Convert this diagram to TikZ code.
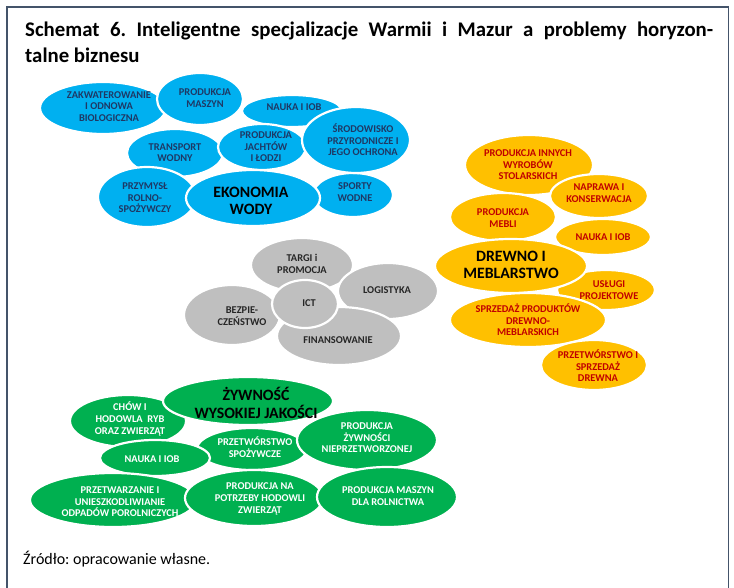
\documentclass[tikz,border=0pt]{standalone}
\usepackage{fontspec}
\setmainfont{Carlito}
\usetikzlibrary{shapes.geometric}
\definecolor{blueF}{HTML}{00B0F0}
\definecolor{orangeF}{HTML}{FFC000}
\definecolor{greenF}{HTML}{00B050}
\definecolor{grayF}{HTML}{BFBFBF}
\definecolor{navyT}{HTML}{1F3864}
\definecolor{redT}{HTML}{C00000}
\definecolor{grayT}{HTML}{262626}
\definecolor{frameC}{HTML}{44546A}
\tikzset{
  blob/.style={ellipse, draw=white, line width=2.2pt, inner sep=0pt},
  bb/.style={blob, fill=blueF},
  ob/.style={blob, fill=orangeF},
  gb/.style={blob, fill=grayF},
  zb/.style={blob, fill=greenF},
  lbl/.style={align=center, inner sep=0pt, font=\bfseries\fontsize{10.4}{11.6}\selectfont},
  big/.style={align=center, inner sep=0pt, text=black, font=\bfseries\fontsize{15.8}{17.5}\selectfont},
  bt/.style={lbl, text=navyT},
  ot/.style={lbl, text=redT},
  gt/.style={lbl, text=grayT},
  zt/.style={lbl, text=white},
}
% name, x, y, rx, ry, style
\newcommand\El[6]{\node[#6, minimum width=2*#4, minimum height=2*#5] (#1) at (#2,#3) {};}
% name, x, y, style, text
\newcommand\Tx[5]{\node[#4] (#1) at (#2,#3) {#5};}
\begin{document}
\frenchspacing
\begin{tikzpicture}[x=1pt,y=-1pt]
\useasboundingbox (0,0) rectangle (734,588);
\fill[white] (0,0) rectangle (734,588);
\draw[frameC, line width=1.4pt] (7,588) -- (7,7) -- (728.5,7) -- (728.5,588);
\node[anchor=base west, inner sep=0pt, font=\bfseries\fontsize{20.8}{24}\selectfont] (t1) at (25,37)
  {\makebox[688pt][s]{Schemat 6. Inteligentne specjalizacje Warmii i Mazur a problemy horyzon-}};
\node[anchor=base west, inner sep=0pt, font=\bfseries\fontsize{20.8}{24}\selectfont] (t2) at (25,63) {talne biznesu};
\node[anchor=base west, inner sep=0pt, font=\fontsize{16}{18}\selectfont] (src) at (23,564) {Źródło: opracowanie własne.};
% blue
\El{b1}{103}{108}{63}{26}{bb}
\El{b2}{200}{99}{43}{26}{bb}
\El{b3}{292}{111}{50}{16}{bb}
\El{b5}{175}{153}{48}{24}{bb}
\El{b6}{262}{147}{44}{23}{bb}
\El{b9}{353}{195}{40}{22}{bb}
\El{b4}{356}{140}{54}{33}{bb}
\El{b7}{147}{197}{49}{30}{bb}
\El{b8}{253}{198}{67}{28}{bb}
% orange
\El{o1}{529}{165}{64}{30}{ob}
\El{o2}{599}{196}{49}{22}{ob}
\El{o3}{503}{217}{53}{24}{ob}
\El{o4}{603}{237}{48}{18}{ob}
\El{o6}{606}{290}{49}{20}{ob}
\El{o5}{511}{266}{76}{27}{ob}
\El{o7}{528}{320}{78}{27}{ob}
\El{o8}{594}{365}{53}{25}{ob}
% gray
\El{g1}{302}{265}{51}{27}{gb}
\El{g2}{388}{291}{50}{28}{gb}
\El{g3}{232}{315}{48}{30}{gb}
\El{g4}{339}{336}{62}{29}{gb}
\El{g5}{305}{304}{33}{24}{gb}
% green
\El{z2}{128}{421}{58}{26}{zb}
\El{z3}{252}{449}{55}{21}{zb}
\El{z1}{248}{401}{85}{24}{zb}
\El{z4}{367}{440}{70}{30}{zb}
\El{z5}{155}{458}{55}{18}{zb}
\El{z6}{113}{500}{83}{27}{zb}
\El{z7}{254}{498}{69}{28}{zb}
\El{z8}{387}{497}{70}{30}{zb}
% texts blue
\Tx{b1t}{109}{106.5}{bt}{ZAKWATEROWANIE\\I ODNOWA\\BIOLOGICZNA}
\Tx{b2t}{205}{98}{bt}{PRODUKCJA\\MASZYN}
\Tx{b3t}{294}{107}{bt}{NAUKA I IOB}
\Tx{b4t}{363}{140}{bt}{ŚRODOWISKO\\PRZYRODNICZE I\\JEGO OCHRONA}
\Tx{b5t}{175}{152.5}{bt}{TRANSPORT\\WODNY}
\Tx{b6t}{266}{147}{bt}{PRODUKCJA\\JACHTÓW\\I ŁODZI}
\Tx{b7t}{145}{198}{bt}{PRZYMYSŁ\\ROLNO-\\SPOŻYWCZY}
\Tx{b8t}{251}{201}{big}{EKONOMIA\\WODY}
\Tx{b9t}{355}{192}{bt}{SPORTY\\WODNE}
% texts orange
\Tx{o1t}{528}{165}{ot}{PRODUKCJA INNYCH\\WYROBÓW\\STOLARSKICH}
\Tx{o2t}{599}{193}{ot}{NAPRAWA I\\KONSERWACJA}
\Tx{o3t}{503}{218}{ot}{PRODUKCJA\\MEBLI}
\Tx{o4t}{603}{237}{ot}{NAUKA I IOB}
\Tx{o5t}{511}{265}{big}{DREWNO I\\MEBLARSTWO}
\Tx{o6t}{609}{290}{ot}{USŁUGI\\PROJEKTOWE}
\Tx{o7t}{528}{320}{ot}{SPRZEDAŻ PRODUKTÓW\\DREWNO-\\MEBLARSKICH}
\Tx{o8t}{598}{366}{ot}{PRZETWÓRSTWO I\\SPRZEDAŻ\\DREWNA}
% texts gray
\Tx{g1t}{302}{264}{gt}{TARGI i\\PROMOCJA}
\Tx{g2t}{387}{290}{gt}{LOGISTYKA}
\Tx{g3t}{242}{316}{gt}{BEZPIE-\\CZEŃSTWO}
\Tx{g4t}{338}{340}{gt}{FINANSOWANIE}
\Tx{g5t}{309}{303}{gt}{ICT}
% texts green
\Tx{z1t}{256}{403}{big}{ŻYWNOŚĆ\\WYSOKIEJ JAKOŚCI}
\Tx{z2t}{130}{419}{zt}{CHÓW I\\HODOWLA~~RYB\\ORAZ ZWIERZĄT}
\Tx{z3t}{255}{447}{zt}{PRZETWÓRSTWO\\SPOŻYWCZE}
\Tx{z4t}{367}{438}{zt}{PRODUKCJA\\ŻYWNOŚCI\\NIEPRZETWORZONEJ}
\Tx{z5t}{152}{459}{zt}{NAUKA I IOB}
\Tx{z6t}{120}{502}{zt}{PRZETWARZANIE I\\UNIESZKODLIWIANIE\\ODPADÓW POROLNICZYCH}
\Tx{z7t}{260}{499}{zt}{PRODUKCJA NA\\POTRZEBY HODOWLI\\ZWIERZĄT}
\Tx{z8t}{388}{496}{zt}{PRODUKCJA MASZYN\\DLA ROLNICTWA}
\end{tikzpicture}
\end{document}
